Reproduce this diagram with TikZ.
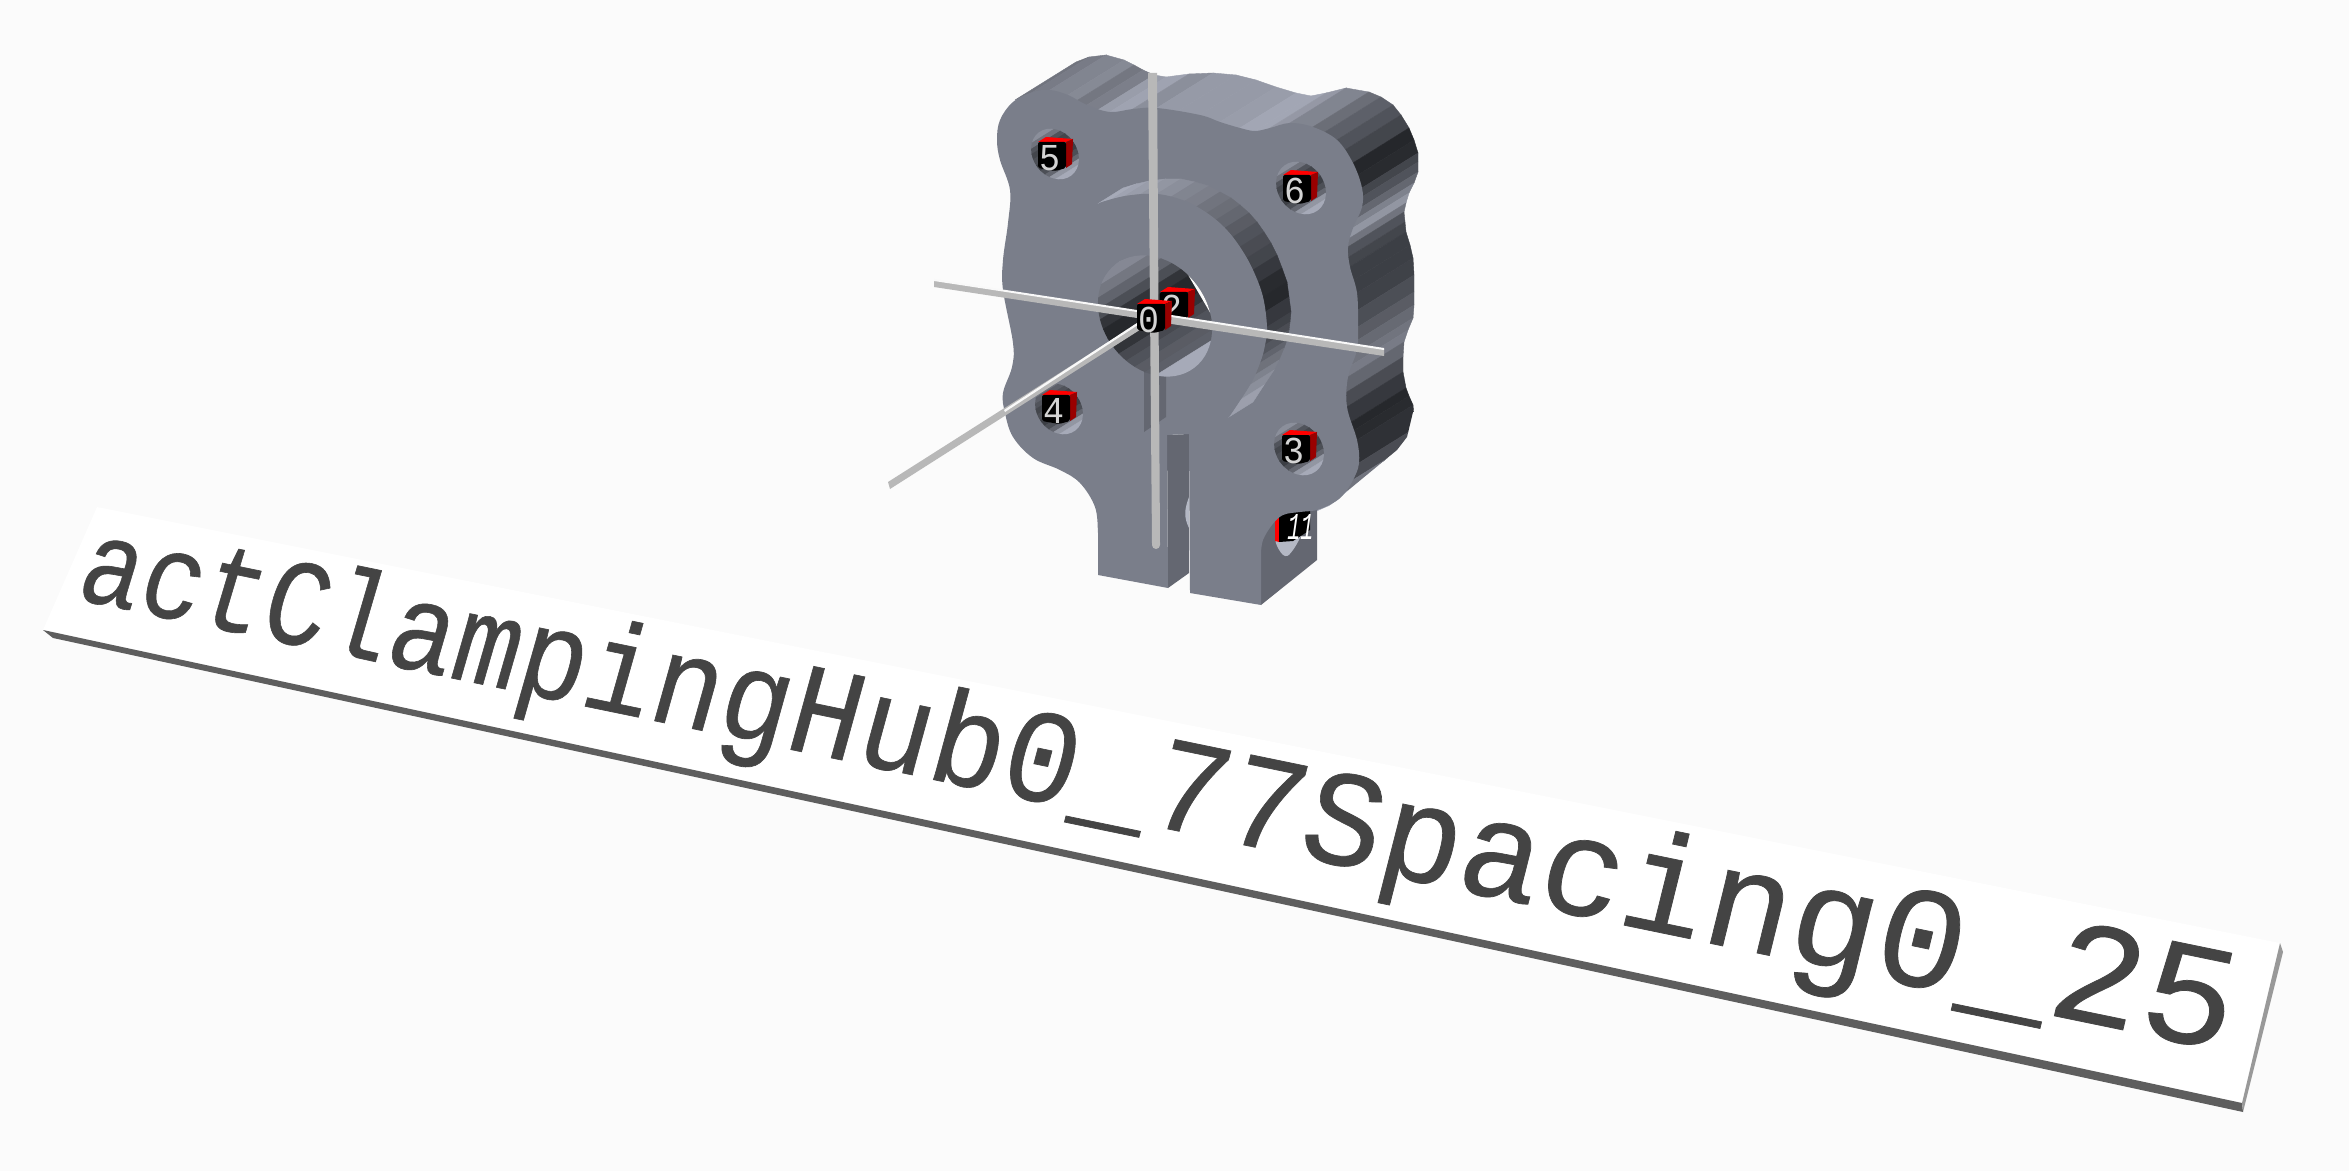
\documentclass[tikz,border=0pt]{standalone}
\usepackage{fontspec}
\newfontfamily\monofam{Liberation Mono}
\newfontfamily\titlefam[FakeBold=0.5]{Liberation Mono}
\definecolor{bgc}{HTML}{FBFBFB}
\definecolor{facec}{HTML}{7A7E8A}
\definecolor{sidedark}{HTML}{222428}
\definecolor{sidelight}{HTML}{A6AAB8}
\definecolor{wallc}{HTML}{646771}
\definecolor{paleblue}{HTML}{B4B8C4}
\definecolor{axisc}{HTML}{B8B8B8}
\definecolor{textc}{HTML}{444444}
\definecolor{redtop}{HTML}{FF0000}
\definecolor{redside}{HTML}{990000}
\definecolor{digitc}{HTML}{D4D4D4}
\tikzset{
  digitlabel/.style={text=digitc,inner sep=0pt,xscale=.92,font=\monofam\fontsize{19}{19}\selectfont},
  titlechar/.style={text=textc,inner sep=0pt,anchor=base west,transform shape,font=\titlefam\fontsize{62}{62}\selectfont},
  axisbar/.style={fill=axisc},
  axishi/.style={fill=white!92!axisc},
}
% #1,#2 centre, #3 major, #4 minor semi-axis, #5 bands s/level
\newcommand\holeBands[5]{%
  \begin{scope}
    \clip[rotate around={-53:(#1,#2)}] (#1,#2) ellipse [x radius=#3,y radius=#4];
    \foreach \s/\l [remember=\s as \ps (initially -1.2)] in {#5}{%
      \pgfmathsetmacro\pct{100*\l}%
      \pgfmathsetmacro\ra{\ps*#3}%
      \pgfmathsetmacro\rb{\s*#3}%
      \fill[sidelight!\pct!sidedark,draw=sidelight!\pct!sidedark,line width=.2pt]
        ({#1+\ra*.53+90*.848},{#2+\ra*.848-90*.53}) --
        ({#1+\rb*.53+90*.848},{#2+\rb*.848-90*.53}) --
        ({#1+\rb*.53-90*.848},{#2+\rb*.848+90*.53}) --
        ({#1+\ra*.53-90*.848},{#2+\ra*.848+90*.53}) -- cycle;
    }
  \end{scope}}
\newcommand\cubeMark[4]{%
  \fill[redtop] (#2,#3) -- ++(8,-5) -- ++(27,2) -- ++(-7,3) -- cycle;
  \fill[redside] ({#2+28},#3) -- ++(7,-3) -- ++(-1,25) -- ++(-6,4) -- cycle;
  \fill[black,rounded corners=1pt] (#2,#3) -- ++(28,0) -- ++(0,26) -- ++(-11,3) -- ++(-17,-3) -- cycle;
  \node[digitlabel] (#1) at ({#2+11.5},{#3+16}) {#4};}
\begin{document}
\begin{tikzpicture}[x=0.5pt,y=-0.5pt]
\useasboundingbox (0,0) rectangle (2349,1171);
\fill[bgc] (0,0) rectangle (2349,1171);

% ---------- name plate ----------
\fill[white] (97,507) -- (2280,943) -- (2242,1103) -- (43,630) -- cycle;
\fill[black!63] (43,630) -- (2242,1103) -- (2243,1112) -- (53,638) -- cycle;
\fill[black!40] (2242,1103) -- (2280,943) -- (2283,952) -- (2243,1112) -- cycle;
\foreach \ch [count=\k from 0] in {a,c,t,C,l,a,m,p,i,n,g,H,u,b,0,\_,7,7,S,p,a,c,i,n,g,0,\_,2,5}{
  \pgfmathsetmacro\uu{0.0085+\k*0.03385}
  \pgfmathsetmacro\uc{\uu+0.0168}
  \pgfmathsetmacro\vv{0.28}
  \pgfmathsetmacro\vc{0.58}
  \pgfmathsetmacro\wo{-0.20171*\uu+0.01084*\vv+1}
  \pgfmathsetmacro\ox{(1746.8*\uu+55.05*\vv+43)/\wo}
  \pgfmathsetmacro\oy{(250.5*\uu-117.5*\vv+630)/\wo}
  \pgfmathsetmacro\wc{-0.20171*\uc+0.01084*\vc+1}
  \pgfmathsetmacro\xc{(1746.8*\uc+55.05*\vc+43)/\wc}
  \pgfmathsetmacro\yc{(250.5*\uc-117.5*\vc+630)/\wc}
  \pgfmathsetmacro\ca{(1746.8+0.20171*\xc)/\wc*0.0562/62*0.5}
  \pgfmathsetmacro\cb{-(250.5+0.20171*\yc)/\wc*0.0562/62*0.5}
  \pgfmathsetmacro\cx{(55.05-0.01084*\xc)/\wc*0.91/62*0.5}
  \pgfmathsetmacro\cy{-(-117.5-0.01084*\yc)/\wc*0.91/62*0.5}
  \pgfmathsetmacro\cl{sqrt(\cx*\cx+\cy*\cy)}
  \pgfmathsetmacro\th{17-4*\uc}
  \pgfmathsetmacro\cc{\cl*sin(\th)}
  \pgfmathsetmacro\cd{\cl*cos(\th)}
  \begin{scope}[cm={\ca,\cb,\cc,\cd,(\ox,\oy)}]
    \node[titlechar] (t\k) at (0,0) {\ch};
  \end{scope}
}

% ---------- extruded outer wall ----------
\begin{scope}
\clip (960,0) -- (1500,0) -- (1500,400) -- (1413,412) -- (1407,437) -- (1397,450) -- (1340,497) -- (1300,530) -- (960,530) -- cycle;
\foreach \x/\y/\l [remember=\x as \px (initially 1020),remember=\y as \py (initially 97),remember=\l as \pl (initially .6)] in {
  1033/92/.65,1050/90/.72,1068/95/.76,1078/100/.62,1087/105/.68,1098/110/.9,1110/112/.95,1133/109/.8,
  1157/108/.88,1180/110/.88,1200/115/.88,1220/122/.9,1240/128/.97,1255/131/.97,1270/128/.87,1290/123/.72,
  1313/127/.55,1325/132/.45,1337/140/.35,1345/150/.25,1353/163/.02,1358/175/.05,1362/188/.25,1362/197/.35,
  1362/207/.5,1358/218/.7,1353/228/.85,1350/238/.6,1348/247/.35,1349/257/.25,1350/267/.2,1354/280/.2,
  1357/293/.22,1358/310/.32,1358/327/.42,1358/340/.52,1357/353/.6,1352/365/.65,1348/377/.5,1347/392/.3,
  1347/407/.15,1350/423/.03,1353/431/.05,1357/440/.1,1359/463/.3,1353/480/.6,1343/495/.85,1333/503/1,1317/510/1}{
  \pgfmathsetmacro\pct{100*\pl}
  \fill[sidelight!\pct!sidedark,draw=sidelight!\pct!sidedark,line width=.2pt]
    ({\px-5},{\py+3}) -- ({\x-5},{\y+3}) -- ({\x+56},{\y-35}) -- ({\px+56},{\py-35}) -- cycle;
}
\end{scope}

% ---------- right leg side with cross hole and cube 11 ----------
\fill[wallc] (1261,605) -- (1317,560) -- (1317,505) -- (1261,505) -- cycle;
\fill[paleblue] plot[smooth,tension=.7] coordinates {(1275,536) (1277,546) (1285,556) (1293,550) (1302,534)} -- cycle;
\fill[redtop] (1275,520) -- (1279,515) -- (1279,542) -- (1275,541) -- cycle;
\fill[black] (1279,505) -- (1310,505) -- (1310,530) -- (1293,541) -- (1279,542) -- cycle;
\node[digitlabel,text=white,xscale=.62,xslant=.25] (n11) at (1301,527) {11};

% slot between the legs
\fill[wallc] (1167,435) -- (1189,434) -- (1189,573) -- (1168,588) -- cycle;
\fill[paleblue] (1189,497) .. controls (1184,510) and (1184,518) .. (1189,528) -- cycle;

% ---------- front face ----------
\fill[facec]
  plot[smooth,tension=.6] coordinates {
    (1098,540) (1098,533) (1095,507) (1080,483) (1060,470) (1033,458) (1013,437) (1005,413) (1003,393) (1012,367) (1013,343)
    (1003,290) (1003,260) (1008,223) (1010,190) (1000,160) (997,140) (1000,120) (1013,102) (1033,92) (1050,90)
    (1068,95) (1087,105) (1110,112) (1133,109) (1157,108) (1200,115) (1220,122) (1240,128) (1255,131) (1270,128)
    (1290,123) (1313,127) (1337,140) (1353,163) (1362,188) (1362,207) (1353,228) (1348,247) (1350,267) (1357,293)
    (1358,327) (1357,350) (1348,377) (1347,407) (1357,440) (1359,463) (1353,480) (1343,495) (1333,503) (1317,510)
    (1300,512) (1283,515) (1272,525) (1263,540) (1261,553)}
  -- (1261,605) -- (1190,593) -- (1189,434) -- (1167,435) -- (1168,588) -- (1098,575) -- cycle;

% ---------- counterbore wall ----------
\foreach \x/\y/\l [remember=\x as \px (initially 1099),remember=\y as \py (initially 203),remember=\l as \pl (initially 1)] in {
  1112/199/.95,1125/196/.9,1141/194/.85,1157/194/.8,1171/197/.72,1185/201/.68,1196/207/.6,1207/213/.55,
  1216/220/.5,1225/228/.42,1233/237/.35,1240/247/.3,1247/258/.25,1253/270/.15,1258/283/.05,1263/297/.03,
  1265/312/.15,1267/327/.22,1266/337/.3,1265/345/.38,1263/355/.48,1260/363/.58,1255/375/.7,1250/385/.8,
  1240/400/.92,1229/417/1}{
  \pgfmathsetmacro\pct{100*\pl}
  \fill[sidelight!\pct!sidedark,draw=sidelight!\pct!sidedark,line width=.2pt]
    (\px,\py) -- (\x,\y) -- ({\x+24},{\y-15}) -- ({\px+24},{\py-15}) -- cycle;
}
\fill[facec] plot[smooth,tension=.6] coordinates {(1099,203) (1125,196) (1157,194) (1185,201) (1207,213) (1225,228) (1240,247) (1253,270)
   (1263,297) (1267,327) (1265,345) (1260,363) (1250,385) (1229,417)} -- cycle;

% ---------- upper slot wall ----------
\fill[wallc] (1144,360) -- (1166,360) -- (1166,417) -- (1144,432) -- cycle;

% ---------- centre bore ----------
\holeBands{1155}{316}{65}{52}{-1/.9,-.85/.75,-.7/.62,-.55/.48,-.4/.32,-.25/.12,-.1/.03,.05/.03,.2/.12,.35/.28,.5/.35,.65/.42,.78/.45,1.2/1}
\begin{scope}
  \clip[rotate around={-53:(1155,316)}] (1155,316) ellipse [x radius=65,y radius=52];
  \fill[bgc] (1184,268) -- (1220,268) -- (1220,330) -- (1208,309) -- cycle;
\end{scope}

% ---------- bolt holes ----------
\holeBands{1055}{154}{27}{22}{-.8/.8,-.62/.6,-.45/.35,-.25/.25,0/.32,.25/.2,.45/.32,.62/.5,.8/.85,1.2/1}
\holeBands{1301}{188}{28}{23}{-.8/.8,-.62/.6,-.45/.35,-.25/.25,0/.32,.25/.2,.45/.32,.62/.5,.8/.85,1.2/1}
\holeBands{1059}{409}{27}{22}{-.8/.6,-.62/.45,-.45/.35,-.25/.25,0/.32,.25/.2,.45/.32,.62/.5,.8/.85,1.2/1}
\holeBands{1299}{449}{28}{23}{-.8/.8,-.62/.6,-.45/.35,-.25/.25,0/.32,.25/.2,.45/.32,.62/.5,.8/.85,1.2/1}

\cubeMark{n5}{1038}{142}{5}
\cubeMark{n6}{1283}{175}{6}
\cubeMark{n4}{1042}{395}{4}
\cubeMark{n3}{1282}{435}{3}
\cubeMark{n2}{1160}{292}{2}

% ---------- axes ----------
\fill[axisbar] (1148,73) -- (1157,73) -- (1160,545) arc[start angle=0,end angle=180,radius=4] -- cycle;
\fill[axisbar] (934,280) -- (1137,311) -- (1137,318) -- (934,287) -- cycle;
\fill[axishi] (934,279) -- (1137,310) -- (1137,312) -- (934,281) -- cycle;
\fill[axisbar] (1165,315) -- (1384,349) -- (1384,356) -- (1165,323) -- cycle;
\fill[axishi] (1165,314) -- (1384,348) -- (1384,350) -- (1165,316) -- cycle;
\fill[axisbar] (1143,320) -- (1146,326) -- (890,489) -- (888,482) -- cycle;
\fill[axishi] (1143,319) -- (1144,321) -- (1005,412) -- (1004,410) -- cycle;

\cubeMark{n0}{1137}{304}{0}
\end{tikzpicture}
\end{document}
